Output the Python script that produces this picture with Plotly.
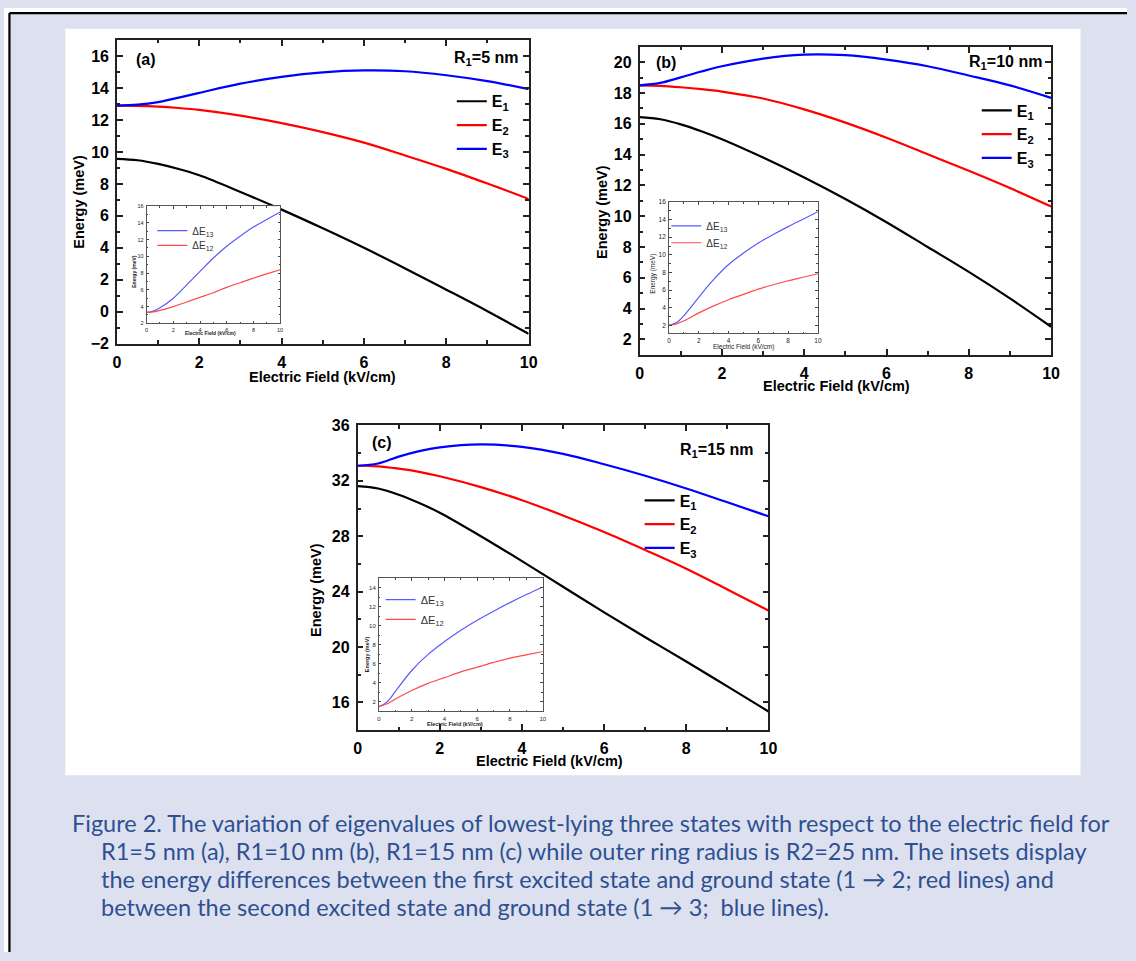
import plotly.graph_objects as go

W, H = 1136, 961
FONT = "Liberation Sans"

# ---------------- data ----------------
field = [0, 0.5, 1, 1.5, 2, 3, 4, 5, 6, 7, 8, 9, 10]

a_E1 = [9.57, 9.48, 9.25, 8.93, 8.54, 7.50, 6.39, 5.22, 4.00, 2.71, 1.38, 0.03, -1.38]
a_E2 = [12.90, 12.89, 12.84, 12.75, 12.63, 12.27, 11.80, 11.24, 10.58, 9.78, 8.94, 8.02, 7.06]
a_E3 = [12.90, 12.96, 13.12, 13.40, 13.70, 14.28, 14.70, 14.98, 15.10, 15.05, 14.80, 14.43, 13.93]

b_E1 = [16.44, 16.30, 15.97, 15.52, 15.00, 13.81, 12.52, 11.12, 9.61, 8.00, 6.38, 4.66, 2.82]
b_E2 = [18.50, 18.47, 18.38, 18.26, 18.10, 17.65, 16.94, 16.08, 15.10, 14.03, 12.95, 11.83, 10.63]
b_E3 = [18.50, 18.66, 19.02, 19.40, 19.74, 20.24, 20.50, 20.46, 20.17, 19.74, 19.14, 18.50, 17.69]

c_E1 = [31.62, 31.45, 31.00, 30.40, 29.70, 28.00, 26.20, 24.35, 22.50, 20.70, 18.95, 17.15, 15.34]
c_E2 = [33.09, 33.05, 32.88, 32.65, 32.33, 31.55, 30.60, 29.50, 28.30, 27.00, 25.65, 24.15, 22.63]
c_E3 = [33.09, 33.25, 33.75, 34.15, 34.42, 34.63, 34.45, 33.95, 33.20, 32.37, 31.45, 30.45, 29.44]

inset_field = [0, 0.5, 1, 2, 3, 4, 5, 6, 7, 8, 9, 10]
a_dE13 = [3.30, 3.45, 3.85, 5.00, 6.60, 8.20, 9.80, 11.20, 12.40, 13.50, 14.40, 15.30]
a_dE12 = [3.30, 3.35, 3.55, 4.00, 4.55, 5.10, 5.65, 6.30, 6.85, 7.40, 7.90, 8.40]
b_dE13 = [2.00, 2.30, 3.10, 5.20, 7.20, 8.90, 10.20, 11.35, 12.30, 13.20, 14.05, 14.90]
b_dE12 = [2.00, 2.15, 2.50, 3.40, 4.20, 4.90, 5.50, 6.10, 6.60, 7.05, 7.45, 7.85]
c_dE13 = [1.50, 2.00, 3.10, 5.30, 7.00, 8.35, 9.55, 10.60, 11.55, 12.45, 13.30, 14.10]
c_dE12 = [1.50, 1.80, 2.30, 3.20, 3.95, 4.55, 5.15, 5.65, 6.15, 6.60, 6.95, 7.30]

main_names = ["E<sub>1</sub>", "E<sub>2</sub>", "E<sub>3</sub>"]
inset_names = ["\u0394E<sub>13</sub>", "\u0394E<sub>12</sub>"]
panel_tags = ["(a)", "(b)", "(c)"]
radius_labels = ["R<sub>1</sub>=5 nm", "R<sub>1</sub>=10 nm", "R<sub>1</sub>=15 nm"]
x_title = "Electric Field (kV/cm)"
y_title = "Energy (meV)"

caption_lines = [
    "Figure 2. The variation of eigenvalues of lowest-lying three states with respect to the electric field for",
    "R1=5 nm (a), R1=10 nm (b), R1=15 nm (c) while outer ring radius is R2=25 nm. The insets display",
    "the energy differences between the first excited state and ground state (1 \u2192 2; red lines) and",
    "between the second excited state and ground state (1 \u2192 3;  blue lines).",
]

# ---------------- helpers ----------------
def fx(px):
    return px / W

def fy(py):
    return 1 - py / H

main_colors = ["#000000", "#ff0000", "#0000ff"]
inset_colors = ["#5a5aff", "#ff4a4a"]

fig = go.Figure()

main_boxes = [
    (114.3, 530.7, 32.7, 341.7),
    (643.0, 1059.2, 39.6, 353.0),
    (357.7, 773.3, 425.0, 735.0),
]
inset_boxes = [
    (144.3, 279.3, 201.7, 321.0),
    (672.8, 823.3, 197.5, 331.0),
    (379.3, 545.0, 580.7, 716.0),
]
main_yranges = [[-2, 17], [1, 21], [14, 36]]
main_ydtick = [2, 2, 4]
main_yminor = [1, 1, 2]
inset_yranges = [[2, 16], [1.1, 16], [1, 15]]
inset_tickfont = [5.5, 6.5, 6]
inset_legfont = [10, 10, 11]

main_sets = [(a_E1, a_E2, a_E3), (b_E1, b_E2, b_E3), (c_E1, c_E2, c_E3)]
inset_sets = [(a_dE13, a_dE12), (b_dE13, b_dE12), (c_dE13, c_dE12)]

# legend positions (pixels)
main_leg_pos = [(453, 77.7), (984, 87), (643, 484)]
main_leg_gap = [0, 0, 0]
inset_leg_pos = [[(150, 226.7), (150, 241.7)],
                 [(670, 221.8), (670, 239.0)],
                 [(381, 602.3), (381, 622.3)]]

layout_axes = {}
legends = {}

for i in range(3):
    xi = 2 * i + 1
    xm = f"x{xi}" if xi > 1 else "x"
    ym = f"y{xi}" if xi > 1 else "y"
    xin = f"x{xi + 1}"
    yin = f"y{xi + 1}"
    lm = "legend" if i == 0 else f"legend{i + 1}"

    for k, (vals, name) in enumerate(zip(main_sets[i], main_names)):
        fig.add_trace(go.Scatter(
            x=field, y=vals, mode="lines", name=name,
            line=dict(color=main_colors[k], width=2.2, shape="spline", smoothing=1.0),
            xaxis=xm, yaxis=ym, legend=lm, legendgroup=f"m{i}{k}",
            showlegend=True, hoverinfo="skip"))
    for k, (vals, name) in enumerate(zip(inset_sets[i], inset_names)):
        li = f"legend{4 + 2 * i + k}"
        fig.add_trace(go.Scatter(
            x=inset_field, y=vals, mode="lines", name=name,
            line=dict(color=inset_colors[k], width=1.2, shape="spline", smoothing=1.0),
            xaxis=xin, yaxis=yin, legend=li,
            showlegend=True, hoverinfo="skip"))
        ilx, ily = inset_leg_pos[i][k]
        legends[li] = dict(
            x=fx(ilx), y=fy(ily), xanchor="left", yanchor="middle", xref="paper", yref="paper",
            bgcolor="rgba(0,0,0,0)", borderwidth=0, itemwidth=30,
            font=dict(family=FONT, size=inset_legfont[i], color="#333"))

    x0, x1, y0, y1 = main_boxes[i]
    axkey_x = "xaxis" if xi == 1 else f"xaxis{xi}"
    axkey_y = "yaxis" if xi == 1 else f"yaxis{xi}"
    layout_axes[axkey_x] = dict(
        domain=[fx(x0), fx(x1)], anchor=ym, range=[0, 10], dtick=2, tick0=0,
        ticks="inside", ticklen=6, tickwidth=1.5, tickcolor="#222",
        minor=dict(ticks="inside", ticklen=3.5, dtick=1, tickcolor="#222", tickwidth=1.5),
        showline=True, linecolor="#222", linewidth=1.6, mirror="allticks",
        showgrid=False, zeroline=False, ticklabelstandoff=3,
        tickfont=dict(family=FONT, size=16, color="#000", weight="bold"))
    layout_axes[axkey_y] = dict(
        domain=[fy(y1), fy(y0)], anchor=xm, range=main_yranges[i],
        dtick=main_ydtick[i], tick0=0,
        ticks="inside", ticklen=6, tickwidth=1.5, tickcolor="#222",
        minor=dict(ticks="inside", ticklen=3.5, dtick=main_yminor[i], tickcolor="#222", tickwidth=1.5),
        showline=True, linecolor="#222", linewidth=1.6, mirror="allticks",
        showgrid=False, zeroline=False, ticklabelstandoff=3,
        tickfont=dict(family=FONT, size=16, color="#000", weight="bold"))

    ix0, ix1, iy0, iy1 = inset_boxes[i]
    tf = inset_tickfont[i]
    layout_axes[f"xaxis{xi + 1}"] = dict(
        domain=[fx(ix0), fx(ix1)], anchor=yin, range=[0, 10], dtick=2, tick0=0,
        ticks="inside", ticklen=2.5, tickwidth=0.8, tickcolor="#444",
        minor=dict(ticks="inside", ticklen=1.5, dtick=1, tickcolor="#444", tickwidth=0.8),
        showline=True, linecolor="#555", linewidth=1, mirror="allticks",
        showgrid=False, zeroline=False, ticklabelstandoff=1,
        tickfont=dict(family=FONT, size=tf, color="#222"))
    layout_axes[f"yaxis{xi + 1}"] = dict(
        domain=[fy(iy1), fy(iy0)], anchor=xin, range=inset_yranges[i], dtick=2, tick0=0,
        ticks="inside", ticklen=2.5, tickwidth=0.8, tickcolor="#444",
        minor=dict(ticks="inside", ticklen=1.5, dtick=1, tickcolor="#444", tickwidth=0.8),
        showline=True, linecolor="#555", linewidth=1, mirror="allticks",
        showgrid=False, zeroline=False, ticklabelstandoff=1,
        tickfont=dict(family=FONT, size=tf, color="#222"))

    lx, ly = main_leg_pos[i]
    legends[lm] = dict(
        x=fx(lx), y=fy(ly), xanchor="left", yanchor="top", xref="paper", yref="paper",
        bgcolor="rgba(0,0,0,0)", borderwidth=0, itemwidth=30,
        traceorder="grouped", tracegroupgap=main_leg_gap[i],
        font=dict(family=FONT, size=16, color="#000", weight="bold"))

annotations = []
tag_pos = [(131.7, 52.3), (657.6, 55.5), (370.7, 442.3)]
rad_pos = [(522.0, 51.0), (1052.0, 55.5), (760.0, 450.0)]
for i in range(3):
    annotations.append(dict(text=panel_tags[i], x=fx(tag_pos[i][0]), y=fy(tag_pos[i][1]),
                            xref="paper", yref="paper", xanchor="left", yanchor="middle",
                            showarrow=False,
                            font=dict(family=FONT, size=16, color="#000", weight="bold")))
    annotations.append(dict(text=radius_labels[i], x=fx(rad_pos[i][0]), y=fy(rad_pos[i][1]),
                            xref="paper", yref="paper", xanchor="right", yanchor="middle",
                            showarrow=False,
                            font=dict(family=FONT, size=16, color="#000", weight="bold")))

xt_pos = [(322.5, 376.0), (842.6, 384.4), (551.7, 766.5)]
yt_pos = [(75.0, 197.0), (605.0, 207.5), (315.0, 592.0)]
for i in range(3):
    annotations.append(dict(text=x_title, x=fx(xt_pos[i][0]), y=fy(xt_pos[i][1]),
                            xref="paper", yref="paper", xanchor="center", yanchor="middle",
                            showarrow=False,
                            font=dict(family=FONT, size=14.5, color="#000", weight="bold")))
    annotations.append(dict(text=y_title, x=fx(yt_pos[i][0]), y=fy(yt_pos[i][1]),
                            xref="paper", yref="paper", xanchor="center", yanchor="middle",
                            textangle=-90, showarrow=False,
                            font=dict(family=FONT, size=14.5, color="#000", weight="bold")))

ixt_pos = [(209.0, 331.0), (748.5, 345.5), (456.7, 729.0)]
iyt_pos = [(132.0, 268.0), (657.0, 270.0), (368.0, 658.0)]
ifs = [5, 6.5, 5.5]
iweights = ["bold", "normal", "bold"]
for i in range(3):
    annotations.append(dict(text=x_title, x=fx(ixt_pos[i][0]), y=fy(ixt_pos[i][1]),
                            xref="paper", yref="paper", xanchor="center", yanchor="middle",
                            showarrow=False,
                            font=dict(family=FONT, size=ifs[i], color="#222", weight=iweights[i])))
    annotations.append(dict(text=y_title, x=fx(iyt_pos[i][0]), y=fy(iyt_pos[i][1]),
                            xref="paper", yref="paper", xanchor="center", yanchor="middle",
                            textangle=-90, showarrow=False,
                            font=dict(family=FONT, size=ifs[i], color="#222", weight=iweights[i])))

cap_pos = [(67, 830), (96, 858.5), (96, 887), (96, 915.5)]
for line, (cx, cy) in zip(caption_lines, cap_pos):
    annotations.append(dict(text=line, x=fx(cx), y=fy(cy), xref="paper", yref="paper",
                            xanchor="left", yanchor="middle", showarrow=False,
                            font=dict(family="Lato", size=23.5, color="#2e5092")))

shapes = [
    dict(type="rect", xref="paper", yref="paper", x0=0, x1=1, y0=fy(5.2), y1=1,
         fillcolor="#ffffff", line=dict(width=0), layer="below"),
    dict(type="rect", xref="paper", yref="paper", x0=0, x1=fx(5.5), y0=0, y1=1,
         fillcolor="#ffffff", line=dict(width=0), layer="below"),
    dict(type="rect", xref="paper", yref="paper", x0=fx(62), x1=fx(1089), y0=fy(781), y1=fy(21),
         fillcolor="#ffffff", line=dict(width=0), layer="below"),
    dict(type="line", xref="paper", yref="paper", x0=fx(5.5), x1=1.0, y0=fy(5.2), y1=fy(5.2),
         line=dict(color="#000", width=2.2), layer="above"),
    dict(type="line", xref="paper", yref="paper", x0=fx(5.5), x1=fx(5.5), y0=0.0, y1=fy(5.2),
         line=dict(color="#000", width=2.2), layer="above"),
]

fig.update_layout(
    width=W, height=H, margin=dict(l=0, r=0, t=0, b=0),
    paper_bgcolor="#dde1ef", plot_bgcolor="#ffffff",
    font=dict(family=FONT),
    annotations=annotations, shapes=shapes,
    **layout_axes, **legends,
)

fig.write_html("out.html")
